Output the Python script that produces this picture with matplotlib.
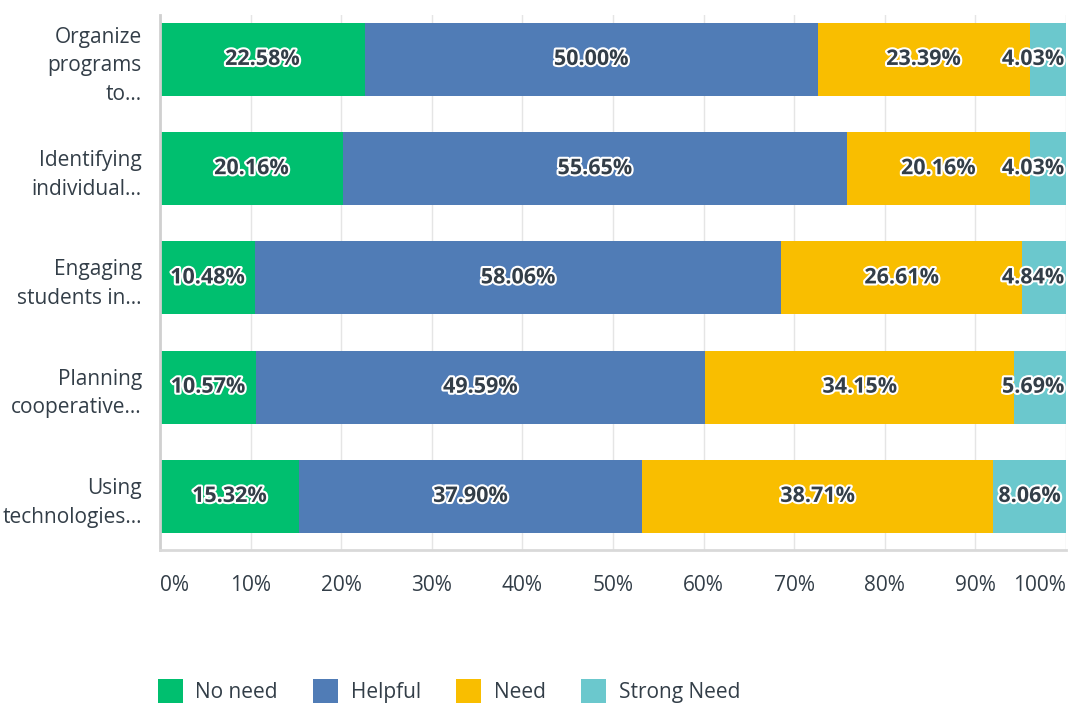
import matplotlib.pyplot as plt
import matplotlib.patheffects as pe
import numpy as np

plt.rcParams['font.family'] = ['Open Sans', 'DejaVu Sans']

questions = ["Organize\nprograms\nto...", "Identifying\nindividual...", "Engaging\nstudents in...",
             "Planning\ncooperative...", "Using\ntechnologies..."]
no_need = [22.58, 20.16, 10.48, 10.57, 15.32]
helpful = [50.00, 55.65, 58.06, 49.59, 37.90]
need = [23.39, 20.16, 26.61, 34.15, 38.71]
strong_need = [4.03, 4.03, 4.84, 5.69, 8.06]

series = {"No need": no_need, "Helpful": helpful, "Need": need, "Strong Need": strong_need}
colours = ["#00BF6F", "#507CB6", "#F9BE00", "#6BC8CD"]
textcol = "#333E48"

fig = plt.figure(figsize=(10.7, 7.06), dpi=100)
ax = fig.add_axes([0.1495, 0.221, 0.9963 - 0.1495, 0.9788 - 0.221])

y = np.arange(len(questions))
left = np.zeros(len(questions))
handles = []
i = 0
for name in series:
    vals = np.array(series[name])
    h = ax.barh(y, vals, left=left, height=0.668, color=colours[i], label=name, zorder=2)
    handles.append(h)
    for k in range(len(vals)):
        cx = left[k] + vals[k] / 2
        ha = "center"
        if cx + 4.0 > 100:
            cx = 99.8
            ha = "right"
        ax.text(cx, y[k], "{0:.2f}%".format(vals[k]), ha=ha, va="center", fontsize=15.5,
                color=textcol, fontweight="bold", zorder=4,
                path_effects=[pe.withStroke(linewidth=3, foreground="white")])
    left = left + vals
    i += 1

ax.set_xlim(0, 100)
ax.set_ylim(4.49, -0.407)
ax.set_yticks(y)
ax.set_yticklabels(questions, fontsize=15, color=textcol, linespacing=1.48)
ax.set_xticks(np.arange(0, 101, 10))
ax.set_xticklabels(["{0}%".format(t) for t in range(0, 101, 10)], fontsize=15, color=textcol)
xt = ax.get_xticklabels()
xt[0].set_ha("left")
xt[-1].set_ha("right")
ax.tick_params(axis="y", length=0, pad=13)
ax.tick_params(axis="x", length=0, pad=18)
ax.grid(axis="x", color="#E5E5E5", linewidth=1, zorder=0)
for s in ["top", "right"]:
    ax.spines[s].set_visible(False)
ax.spines["left"].set_color("#D0D0D0")
ax.spines["left"].set_linewidth(2)
ax.spines["bottom"].set_color("#D9D9D9")
ax.spines["bottom"].set_linewidth(2)

fig.legend(handles=handles, loc="lower left", bbox_to_anchor=(0.13, -0.022), ncol=4, frameon=False,
           fontsize=15, labelcolor=textcol, handlelength=1.2, handleheight=1.4, handletextpad=0.6,
           columnspacing=1.7)

fig.savefig("out.png", dpi=100)
